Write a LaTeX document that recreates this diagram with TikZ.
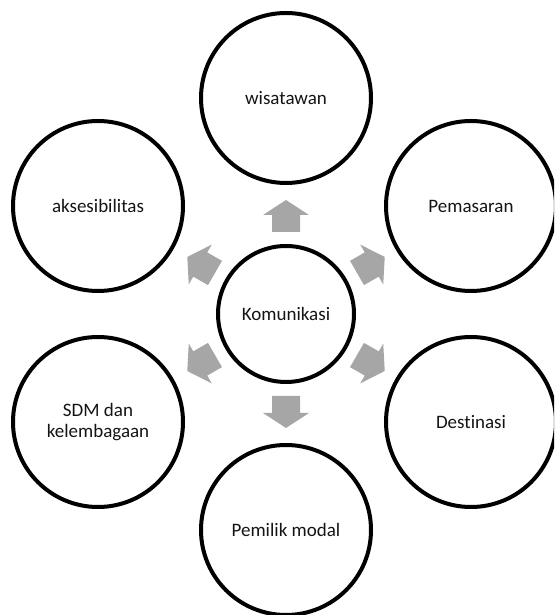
\documentclass[tikz,border=0pt]{standalone}
\usepackage{fontspec}
\setmainfont{Carlito}[Ligatures=NoCommon]
\usetikzlibrary{calc}
\definecolor{arrowgray}{RGB}{166,166,166}
\definecolor{txt}{RGB}{20,20,20}
\begin{document}
\begin{tikzpicture}[x=1pt,y=1pt,
  bubble/.style={circle,draw=black,line width=4pt,minimum size=170pt,inner sep=0pt,
    text=txt,font=\fontsize{19}{21}\selectfont,align=center},
  hub/.style={bubble,minimum size=136pt},
  blockarr/.pic={\fill[arrowgray] (0,-14) -- (17,-14) -- (17,-23) -- (32,0) -- (17,23) -- (17,14) -- (0,14) -- cycle;}]
\useasboundingbox (0,0) rectangle (554,615);
\clip (0,0) rectangle (554,615);
\node[hub] (kom) at (286,301) {Komunikasi};
\node[bubble] (wis) at (286,517) {wisatawan};
\node[bubble] (pem) at (471,409) {Pemasaran};
\node[bubble] (des) at (471,193) {Destinasi};
\node[bubble] (pmod) at (286,85) {Pemilik modal};
\node[bubble] (sdm) at (98,193) {SDM dan\\kelembagaan};
\node[bubble] (aks) at (98,409) {aksesibilitas};
\foreach \a in {90,30,-30,-90,-150,150}{
  \path (kom.center) ++(\a:82) pic[rotate=\a]{blockarr};
}
\end{tikzpicture}
\end{document}
